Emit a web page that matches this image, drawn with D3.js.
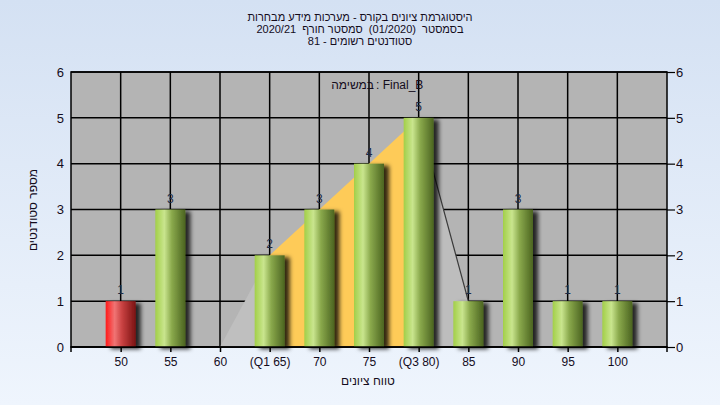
<!DOCTYPE html>
<html><head><meta charset="utf-8">
<script src="https://cdn.jsdelivr.net/npm/d3@7"></script>
<style>
html,body{margin:0;padding:0;}
body{width:720px;height:405px;overflow:hidden;font-family:"Liberation Sans",Arial,"DejaVu Sans",sans-serif;}
text{white-space:pre;}
</style></head>
<body>
<svg id="c" width="720" height="405"></svg>
<script>
const grades = [50, 55, 60, 65, 70, 75, 80, 85, 90, 95, 100];
const tickLabels = ["50", "55", "60", "(Q1 65)", "70", "75", "(Q3 80)", "85", "90", "95", "100"];
const counts = [1, 3, 0, 2, 3, 4, 5, 1, 3, 1, 1];
const failGrades = [50];
const q1 = 65, q3 = 80;
const areaGrades = [60, 65, 70, 75, 80, 85];
const areaCounts = [0, 2, 3, 4, 5, 1];
const yTicks = [0, 1, 2, 3, 4, 5, 6];
const titleLines = ["היסטוגרמת ציונים בקורס - מערכות מידע מבחרות", "בסמסטר  (01/2020)  סמסטר חורף  2020/21", "סטודנטים רשומים - 81"];
const legendHeb = "במשימה";
const legendTask = ": Final_B";
const xTitle = "טווח ציונים";
const yTitle = "מספר סטודנטים";

const svg = d3.select("#c");
const W = 720, H = 405;
const L = 71, R = 667, T = 72, B = 347;
const x = d3.scaleLinear().domain([45, 105]).range([L, R]);
const y = d3.scaleLinear().domain([0, 6]).range([B, T]);
const txt = "#140c1c";

const defs = svg.append("defs");
const bg = defs.append("linearGradient").attr("id", "bg").attr("x1", 0).attr("y1", 0).attr("x2", 0).attr("y2", 1);
bg.append("stop").attr("offset", 0).attr("stop-color", "#d4e1f3");
bg.append("stop").attr("offset", 1).attr("stop-color", "#eff5fd");
function barGrad(id, c0, c1, c2, c3) {
  const g = defs.append("linearGradient").attr("id", id).attr("x1", 0).attr("y1", 0).attr("x2", 1).attr("y2", 0);
  g.append("stop").attr("offset", 0).attr("stop-color", c0);
  g.append("stop").attr("offset", 0.3).attr("stop-color", c1);
  g.append("stop").attr("offset", 0.55).attr("stop-color", c2);
  g.append("stop").attr("offset", 1).attr("stop-color", c3);
}
barGrad("gGreen", "#a2cf48", "#c9e58e", "#8aa94c", "#4b6420");
barGrad("gRed", "#ff1a1a", "#f07474", "#c84040", "#7a1414");
const f = defs.append("filter").attr("id", "sh").attr("x", "-30%").attr("y", "-10%").attr("width", "170%").attr("height", "130%");
f.append("feDropShadow").attr("dx", 5).attr("dy", 2).attr("stdDeviation", 2).attr("flood-color", "#000").attr("flood-opacity", 0.8);

svg.append("rect").attr("width", W).attr("height", H).attr("fill", "url(#bg)");
svg.append("rect").attr("x", L).attr("y", T).attr("width", R - L).attr("height", B - T).attr("fill", "#b4b4b4");

// grid
svg.append("g").selectAll("line.h").data(yTicks).join("line")
  .attr("x1", L).attr("x2", R).attr("y1", d => y(d)).attr("y2", d => y(d))
  .attr("stroke", "#000").attr("stroke-width", 1.5);
svg.append("g").selectAll("line.v").data(grades).join("line")
  .attr("x1", d => x(d)).attr("x2", d => x(d)).attr("y1", T).attr("y2", B)
  .attr("stroke", "#000").attr("stroke-width", 1.5);

// area
const pts = areaGrades.map((g, i) => [g, areaCounts[i]]);
const area = d3.area().x(d => x(d[0])).y0(y(0)).y1(d => y(d[1]));
const inRange = (a, b) => pts.filter(p => p[0] >= a && p[0] <= b);
svg.append("path").datum(inRange(areaGrades[0], q1)).attr("d", area).attr("fill", "#bfbfbf");
svg.append("path").datum(inRange(q1, q3)).attr("d", area).attr("fill", "#fecb58");
svg.append("path").datum(inRange(q3, areaGrades[areaGrades.length - 1])).attr("d", area).attr("fill", "#bdbdbd");
svg.append("path").datum(inRange(q3, areaGrades[areaGrades.length - 1]))
  .attr("d", d3.line().x(d => x(d[0])).y(d => y(d[1]))).attr("fill", "none").attr("stroke", "#3a3a3a").attr("stroke-width", 1.2);

// plot border
svg.append("rect").attr("x", L).attr("y", T).attr("width", R - L).attr("height", B - T)
  .attr("fill", "none").attr("stroke", "#000").attr("stroke-width", 1.5);

// legend label (inside plot)
svg.append("text").attr("x", 374).attr("y", 89).attr("text-anchor", "end")
  .attr("font-size", 12).attr("fill", txt).text(legendHeb);
svg.append("text").attr("x", 376).attr("y", 89).attr("text-anchor", "start")
  .attr("font-size", 12).attr("fill", txt).text(legendTask);

// bars
const bw = 30;
const bars = grades.map((g, i) => ({ g, v: counts[i] })).filter(d => d.v > 0);
svg.append("g").selectAll("rect").data(bars).join("rect")
  .attr("x", d => x(d.g) - bw / 2).attr("y", d => y(d.v)).attr("width", bw).attr("height", d => y(0) - y(d.v))
  .attr("fill", d => failGrades.includes(d.g) ? "url(#gRed)" : "url(#gGreen)")
  .attr("filter", "url(#sh)");
svg.append("g").selectAll("text").data(bars).join("text")
  .attr("x", d => x(d.g)).attr("y", d => y(d.v) - 7).attr("text-anchor", "middle")
  .attr("font-size", 12).attr("fill", "#1c2a44").text(d => d.v);

// bottom axis
const xa = svg.append("g").attr("transform", `translate(0,${B})`)
  .call(d3.axisBottom(x).tickValues(grades).tickFormat((d, i) => tickLabels[i]).tickSize(5).tickPadding(5));
xa.select(".domain").attr("stroke", "#000").attr("stroke-width", 1.5).attr("d", `M${L},5V0H${R}V5`);
xa.selectAll(".tick line").attr("stroke", "#000").attr("stroke-width", 1.5);
xa.selectAll(".tick text").attr("font-size", 12).attr("fill", txt).attr("font-family", "Liberation Sans, Arial, sans-serif");

// left axis
const ya = svg.append("g").attr("transform", `translate(${L},0)`)
  .call(d3.axisLeft(y).tickValues(yTicks).tickFormat(d3.format("d")).tickSize(0).tickPadding(7));
ya.select(".domain").remove();
ya.selectAll(".tick text").attr("font-size", 13).attr("fill", txt).attr("font-family", "Liberation Sans, Arial, sans-serif");
// right axis
const yr = svg.append("g").attr("transform", `translate(${R},0)`)
  .call(d3.axisRight(y).tickValues(yTicks).tickFormat(d3.format("d")).tickSize(8).tickPadding(1));
yr.select(".domain").remove();
yr.selectAll(".tick line").attr("stroke", "#000").attr("stroke-width", 1.2);
yr.selectAll(".tick text").attr("font-size", 13).attr("fill", txt).attr("font-family", "Liberation Sans, Arial, sans-serif");

// titles
const tBase = [21, 33, 45];
svg.append("g").selectAll("text").data(titleLines).join("text")
  .attr("x", 360).attr("y", (d, i) => tBase[i]).attr("text-anchor", "middle").attr("direction", "rtl")
  .attr("font-size", 11).attr("fill", txt).text(d => d);
svg.append("text").attr("x", 368).attr("y", 385).attr("text-anchor", "middle").attr("direction", "rtl")
  .attr("font-size", 12).attr("fill", txt).text(xTitle);
svg.append("text").attr("transform", "translate(37,210) rotate(-90)").attr("text-anchor", "middle").attr("direction", "rtl")
  .attr("font-size", 12).attr("fill", txt).text(yTitle);
</script>
</body></html>
